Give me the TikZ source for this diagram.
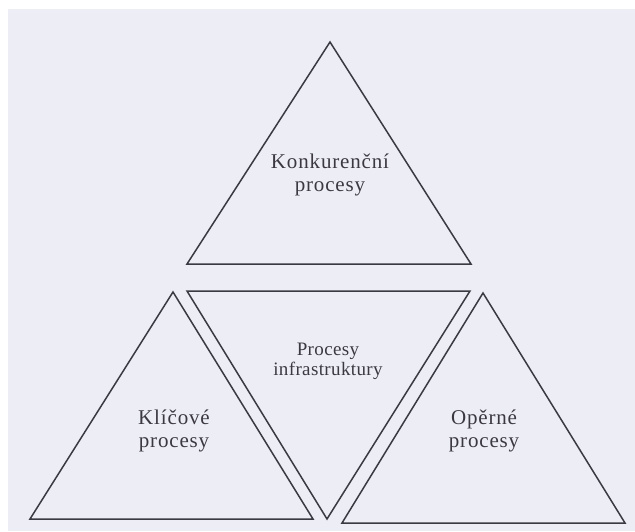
\documentclass[tikz,border=0pt]{standalone}
\usepackage{fontspec}
\setmainfont{Liberation Serif}
\newfontfamily\spacedserif[LetterSpace=4]{Liberation Serif}
\newfontfamily\lightspacedserif[LetterSpace=2]{Liberation Serif}
\begin{document}
\begin{tikzpicture}[x=1pt,y=-1pt,
  tri/.style={draw=edge,line width=1.5pt,line join=miter},
  lbl/.style={text=ink,align=center,inner sep=0pt},
  big/.style={lbl,font=\spacedserif\fontsize{21}{23}\selectfont},
  small/.style={lbl,font=\lightspacedserif\fontsize{19}{20}\selectfont}]
\definecolor{paper}{HTML}{EDEEF5}
\definecolor{edge}{HTML}{3A3A42}
\definecolor{ink}{HTML}{3C3842}
\useasboundingbox (0,0) rectangle (635,531);
\fill[white] (0,0) rectangle (635,531);
\fill[paper] (8,9) rectangle (635,531);
% top triangle
\coordinate (tA) at (330,42);
\coordinate (tL) at (187,264);
\coordinate (tR) at (471,264);
\draw[tri] (tA) -- (tL) -- (tR) -- cycle;
% inverted middle triangle
\coordinate (mL) at (187,291);
\coordinate (mR) at (470,291);
\coordinate (mB) at (327,519);
\draw[tri] (mL) -- (mR) -- (mB) -- cycle;
% left triangle
\coordinate (lA) at (173,292);
\coordinate (lL) at (30,519);
\coordinate (lR) at (313,519);
\draw[tri] (lA) -- (lL) -- (lR) -- cycle;
% right triangle
\coordinate (rA) at (483,293);
\coordinate (rL) at (342,523);
\coordinate (rR) at (625,523);
\draw[tri] (rA) -- (rL) -- (rR) -- cycle;
% labels
\node[big] (konk) at (330,175) {Konkurenční\\procesy};
\node[small] (infra) at (328,361) {Procesy\\infrastruktury};
\node[big] (klic) at (174,431) {Klíčové\\procesy};
\node[big] (oper) at (484,431) {Opěrné\\procesy};
\end{tikzpicture}
\end{document}
